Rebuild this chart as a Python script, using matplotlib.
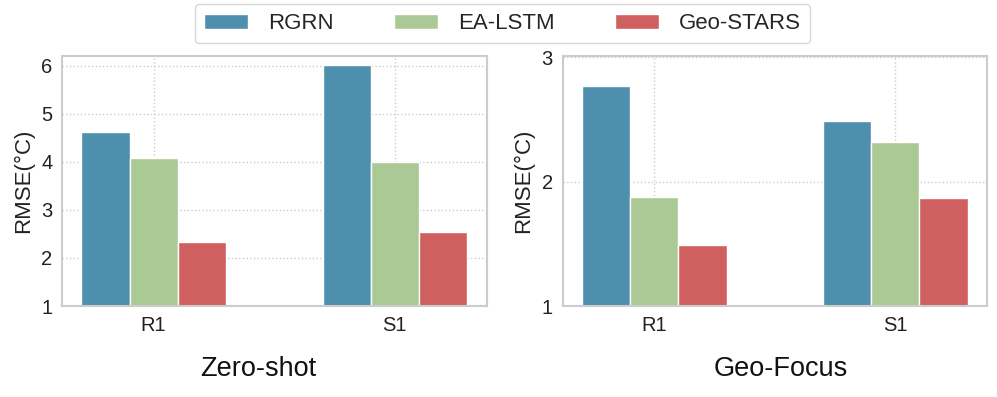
import numpy as np
import matplotlib
matplotlib.use('Agg')
import matplotlib.pyplot as plt
import seaborn as sns

sites = ['R1', 'S1']
models = ['RGRN', 'EA-LSTM', 'Geo-STARS']
colors = ['#4f8fae', '#abc995', '#d06060']

zero_shot = {'RGRN': [4.62, 6.01], 'EA-LSTM': [4.07, 3.99], 'Geo-STARS': [2.34, 2.53]}
geo_focus = {'RGRN': [2.77, 2.49], 'EA-LSTM': [1.88, 2.32], 'Geo-STARS': [1.49, 1.87]}

sns.set_style('whitegrid')
plt.rcParams['font.family'] = ['Liberation Sans', 'DejaVu Sans']

fig, axes = plt.subplots(1, 2, figsize=(9.97, 3.97), dpi=100)
fig.subplots_adjust(left=0.0622, right=0.99, bottom=0.229, top=0.859, wspace=0.179)

panels = [(zero_shot, 'Zero-shot', (1, 6.2), [1, 2, 3, 4, 5, 6], 0.461),
          (geo_focus, 'Geo-Focus', (1, 3.01), [1, 2, 3], 0.513)]
x = np.arange(len(sites))
w = 0.2
for ax, (vals, title, ylim, yt, lx) in zip(axes, panels):
    for k, m in enumerate(models):
        ax.bar(x + (k - 1) * w, vals[m], w, color=colors[k], edgecolor='white',
               linewidth=1.0, label=m, zorder=2)
    ax.set_ylim(*ylim)
    ax.set_yticks(yt)
    ax.set_xticks(x)
    ax.set_xticklabels(sites)
    ax.set_xlabel(title, fontsize=19.5, labelpad=15, color='#111111', x=lx)
    ax.set_ylabel('RMSE(°C)', fontsize=16, color='#222222', labelpad=5)
    ax.tick_params(axis='both', labelsize=14.5, colors='#222222', length=0, pad=7)
    ax.grid(True, linestyle=':', color='#cccccc', linewidth=1.0, zorder=0)
    for s in ax.spines.values():
        s.set_color('#cccccc')
        s.set_linewidth(1.5)

h, l = axes[0].get_legend_handles_labels()
fig.legend(h, l, loc='upper center', ncol=3, bbox_to_anchor=(0.504, 1.017),
           fontsize=16, frameon=True, edgecolor='#cccccc', handlelength=2.0,
           columnspacing=2.7, handletextpad=0.9, borderpad=0.4)

fig.savefig('out.png', dpi=100)
